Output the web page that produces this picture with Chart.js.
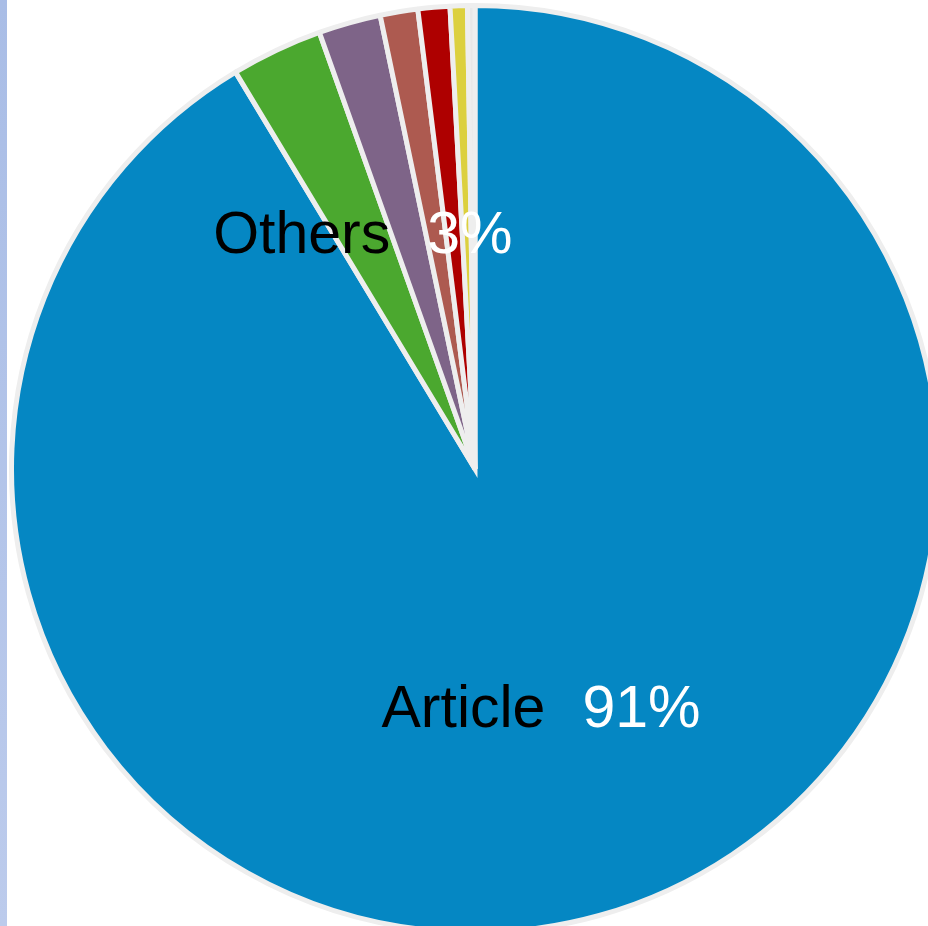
<!DOCTYPE html>
<html>
<head>
<meta charset="utf-8">
<script src="https://cdn.jsdelivr.net/npm/chart.js@4.4.1/dist/chart.umd.min.js"></script>
<style>
  html, body { margin: 0; padding: 0; background: #ffffff; width: 928px; height: 926px; overflow: hidden; position: relative; }
  #strip { position: absolute; left: 0; top: 0; width: 7px; height: 926px; background: linear-gradient(#a9bde6, #bccbec); }
  #wrap { position: absolute; left: 9px; top: 3px; width: 932px; height: 932px; }
</style>
</head>
<body>
<div id="strip"></div>
<div id="wrap"><canvas id="c" width="932" height="932"></canvas></div>
<script>
// Data, in drawing order clockwise from 12 o'clock
const categories = ["Article", "Others", "Review", "Proceedings Paper", "Editorial Material", "Letter", "Book Chapter"];
const shares = [91.36, 3.19, 2.17, 1.31, 1.11, 0.6, 0.26];
const sliceColors = ["#0587c3", "#4ba82f", "#7e6488", "#ad5a50", "#ae0000", "#dcd03e", "#e8e8e8"];
const labelledSlices = ["Article", "Others"];

const total = shares.reduce((a, b) => a + b, 0);

const sliceLabels = {
  id: 'sliceLabels',
  afterDatasetsDraw(chart, args, opts) {
    const ctx = chart.ctx;
    const meta = chart.getDatasetMeta(0);
    ctx.save();
    ctx.font = opts.font;
    ctx.textBaseline = 'alphabetic';
    ctx.textAlign = 'left';
    meta.data.forEach((arc, i) => {
      const name = chart.data.labels[i];
      if (!labelledSlices.includes(name)) return;
      const p = arc.getProps(['x', 'y', 'startAngle', 'endAngle', 'outerRadius'], true);
      const mid = (p.startAngle + p.endAngle) / 2;
      const r = p.outerRadius * (opts.radiusFraction[name] || 0.55);
      const ax = p.x + Math.cos(mid) * r;
      const ay = p.y + Math.sin(mid) * r;
      const pct = Math.round(chart.data.datasets[0].data[i] / total * 100) + '%';
      const w1 = ctx.measureText(name).width;
      const w2 = ctx.measureText(pct).width;
      const tot = w1 + opts.gap + w2;
      const x0 = ax - tot / 2;
      const base = ay + opts.capShift;
      ctx.fillStyle = '#000000';
      ctx.fillText(name, x0, base);
      ctx.fillStyle = '#ffffff';
      ctx.fillText(pct, x0 + w1 + opts.gap, base);
    });
    ctx.restore();
  }
};

new Chart(document.getElementById('c'), {
  type: 'pie',
  data: {
    labels: categories,
    datasets: [{
      data: shares,
      backgroundColor: sliceColors,
      borderColor: '#eeeeee',
      borderWidth: 5,
      borderJoinStyle: (c) => c.dataIndex === 0 ? 'miter' : 'bevel',
      hoverOffset: 0
    }]
  },
  options: {
    responsive: false,
    devicePixelRatio: 1,
    animation: false,
    layout: { padding: 0 },
    plugins: {
      legend: { display: false },
      tooltip: { enabled: false },
      title: { display: false },
      sliceLabels: {
        font: '59px "Liberation Sans", Arial, sans-serif',
        gap: 37,
        capShift: 21,
        radiusFraction: { "Article": 0.531, "Others": 0.565 }
      }
    }
  },
  plugins: [sliceLabels]
});
</script>
</body>
</html>
